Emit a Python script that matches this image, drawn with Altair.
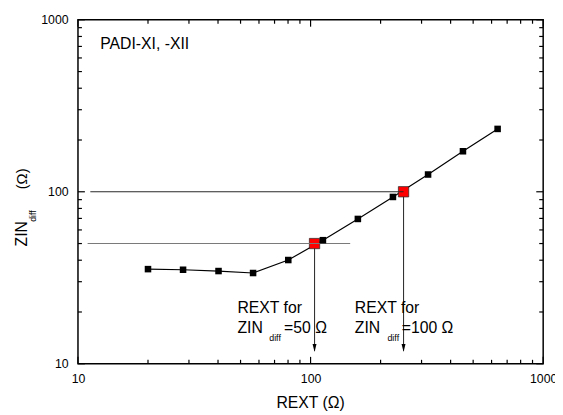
import altair as alt
import pandas as pd

# measured series
rext = [20, 28.3, 40.2, 56.6, 80.2, 113, 159.7, 226, 320, 452, 637]
zin = [35.5, 35.2, 34.6, 33.7, 40.1, 52.3, 69.5, 93.3, 126, 172, 232]

# highlighted operating points
red_rext = [104, 251]
red_zin = [50, 100]

# horizontal reference lines
ref_level = [50, 100]
ref_start = [11.0, 11.3]
ref_end = [148, 251]
ref_color = ["#7a7a7a", "#2a2a2a"]

# arrows down from the red points
arrow_x = [104, 251]
arrow_top = [50, 100]
arrow_tip = [11.9, 11.9]
arrow_head_y = [12.35, 12.35]

# annotation texts (data coordinates)
ann_text = ["REXT for", "ZIN", "=50 \u03a9", "REXT for", "ZIN", "=100 \u03a9"]
ann_x = [48.5, 48.5, 76.9, 155, 155, 246.6]
ann_y = [19.6, 15.06, 15.06, 19.6, 15.06, 15.06]
sub_text = ["diff", "diff"]
sub_x = [66.4, 214]
sub_y = [13.55, 13.55]

label_text = ["PADI-XI, -XII"]
label_x = [12.47]
label_y = [673]

# axis tick positions
major_ticks = [10, 100, 1000]
minor_ticks = [20, 30, 40, 50, 60, 70, 80, 90,
               200, 300, 400, 500, 600, 700, 800, 900]

W, H = 472, 349
FONT = "Liberation Sans"
LO, HI = 10, 1000

xs = alt.Scale(type="log", domain=[LO, HI])
ys = alt.Scale(type="log", domain=[LO, HI])

x_axis = alt.Axis(values=major_ticks, format="d", grid=False, domain=False,
                  ticks=False, tickSize=0, labelPadding=19, labelBaseline="alphabetic",
                  labelFont=FONT, labelFontSize=12.5, labelColor="black",
                  labelFlush=False, labelOverlap=False)
y_axis = alt.Axis(values=major_ticks, format="d", grid=False, domain=False,
                  ticks=False, tickSize=0, labelPadding=10,
                  labelFont=FONT, labelFontSize=12.5, labelColor="black",
                  labelFlush=False, labelOverlap=False)


def X(f):
    return alt.X(f, scale=xs, axis=x_axis, title=None)


def Y(f):
    return alt.Y(f, scale=ys, axis=y_axis, title=None)


df = pd.DataFrame({"rext": rext, "zin": zin})
red_df = pd.DataFrame({"rext": red_rext, "zin": red_zin})
ref_df = pd.DataFrame({"y": ref_level, "x1": ref_start, "x2": ref_end, "c": ref_color})
arr_df = pd.DataFrame({"x": arrow_x, "y1": arrow_top, "y2": arrow_tip, "yh": arrow_head_y})
ann_df = pd.DataFrame({"t": ann_text, "x": ann_x, "y": ann_y})
sub_df = pd.DataFrame({"t": sub_text, "x": sub_x, "y": sub_y})
lab_df = pd.DataFrame({"t": label_text, "x": label_x, "y": label_y})
major_df = pd.DataFrame({"v": major_ticks})
minor_df = pd.DataFrame({"v": minor_ticks})

line = alt.Chart(df).mark_line(color="black", strokeWidth=1.2).encode(
    x=X("rext:Q"), y=Y("zin:Q"))

red = alt.Chart(red_df).mark_point(shape="square", filled=True, size=110, fill="#ff0000",
                                   stroke="#222222", strokeWidth=0.7, opacity=1).encode(
    x=X("rext:Q"), y=Y("zin:Q"))

refs = alt.Chart(ref_df).mark_rule(strokeWidth=1.1).encode(
    x=X("x1:Q"), x2="x2:Q", y=Y("y:Q"), color=alt.Color("c:N", scale=None))

arrows = alt.Chart(arr_df).mark_rule(color="#333333", strokeWidth=1.1).encode(
    x=X("x:Q"), y=Y("y1:Q"), y2="y2:Q")

heads = alt.Chart(arr_df).mark_point(shape="M-0.5,-1L0.5,-1L0,1Z", filled=True, size=64,
                                     color="black", opacity=1).encode(
    x=X("x:Q"), y=Y("yh:Q"))

pts = alt.Chart(df).mark_point(shape="square", filled=True, size=44, color="black",
                               opacity=1).encode(x=X("rext:Q"), y=Y("zin:Q"))

ann = alt.Chart(ann_df).mark_text(align="left", baseline="alphabetic", font=FONT,
                                  fontSize=16, color="black").encode(
    x=X("x:Q"), y=Y("y:Q"), text="t:N")

sub = alt.Chart(sub_df).mark_text(align="left", baseline="alphabetic", font=FONT,
                                  fontSize=9, color="black").encode(
    x=X("x:Q"), y=Y("y:Q"), text="t:N")

lab = alt.Chart(lab_df).mark_text(align="left", baseline="alphabetic", font=FONT,
                                  fontSize=16, color="black").encode(
    x=X("x:Q"), y=Y("y:Q"), text="t:N")


def tick_layers():
    """Inward ticks on all four sides; tick length L (px) converted to log-units."""
    layers = []
    for tdf, L in ((major_df, 7), (minor_df, 4)):
        fy = 10 ** (2.0 * L / H)
        fx = 10 ** (2.0 * L / W)
        base = alt.Chart(tdf).transform_calculate(
            ylo=f"{LO}", ylo2=f"{LO * fy}", yhi=f"{HI}", yhi2=f"{HI / fy}",
            xlo=f"{LO}", xlo2=f"{LO * fx}", xhi=f"{HI}", xhi2=f"{HI / fx}")
        layers.append(base.mark_rule(color="black", strokeWidth=1.2).encode(
            x=X("v:Q"), y=Y("ylo:Q"), y2="ylo2:Q"))
        layers.append(base.mark_rule(color="black", strokeWidth=1.2).encode(
            x=X("v:Q"), y=Y("yhi:Q"), y2="yhi2:Q"))
        layers.append(base.mark_rule(color="black", strokeWidth=1.2).encode(
            y=Y("v:Q"), x=X("xlo:Q"), x2="xlo2:Q"))
        layers.append(base.mark_rule(color="black", strokeWidth=1.2).encode(
            y=Y("v:Q"), x=X("xhi:Q"), x2="xhi2:Q"))
    return layers


title_df = pd.DataFrame({"k": [0]})
xtitle = alt.Chart(title_df).mark_text(align="center", baseline="alphabetic", font=FONT,
                                       fontSize=16, color="black").encode(
    x=alt.value(236), y=alt.value(394), text=alt.value("REXT (\u03a9)"))
yt1 = alt.Chart(title_df).mark_text(align="left", baseline="middle", angle=270, font=FONT,
                                    fontSize=16, color="black").encode(
    x=alt.value(-57), y=alt.value(230), text=alt.value("ZIN"))
yt2 = alt.Chart(title_df).mark_text(align="left", baseline="middle", angle=270, font=FONT,
                                    fontSize=9, color="black").encode(
    x=alt.value(-46), y=alt.value(205), text=alt.value("diff"))
yt3 = alt.Chart(title_df).mark_text(align="left", baseline="middle", angle=270, font=FONT,
                                    fontSize=15, color="black").encode(
    x=alt.value(-57), y=alt.value(172), text=alt.value("(\u03a9)"))

chart = alt.layer(
    line, arrows, heads, red, refs, pts, ann, sub, lab,
    *tick_layers(), xtitle, yt1, yt2, yt3
).properties(
    width=W, height=H,
    autosize=alt.AutoSizeParams(type="none"),
    padding={"left": 71, "top": 9, "right": 12, "bottom": 47},
    background="white",
).configure_view(stroke="black", strokeWidth=1.5)

chart.save("out.html", embed_options={"renderer": "svg", "actions": False})
